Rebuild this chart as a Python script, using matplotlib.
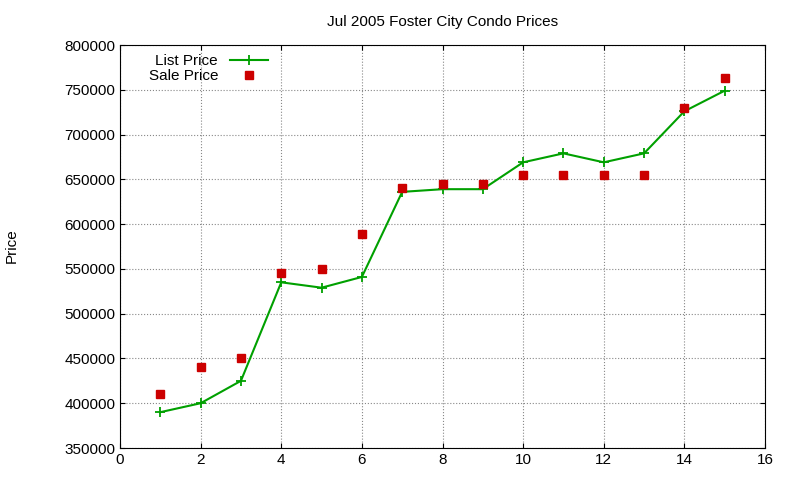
import matplotlib
matplotlib.use("Agg")
import matplotlib.pyplot as plt

x = list(range(1, 16))
list_price = [390000, 400000, 425000, 535000, 529000, 541000, 636000, 639000, 639000,
              669000, 679000, 669000, 679000, 726000, 749000]
sale_price = [410000, 440000, 450000, 545000, 550000, 589000, 640000, 645000, 645000,
              655000, 655000, 655000, 655000, 730000, 763000]

plt.rcParams['font.family'] = ['Liberation Sans', 'DejaVu Sans']
fig = plt.figure(figsize=(8, 4.8), dpi=100)
ax = fig.add_axes([120/800, 32/480, 645/800, 403/480])
ax.plot(x, list_price, color='#00a000', marker='+', markersize=7, mew=1.3, lw=1.5, label='List Price')
ax.plot(x, sale_price, ls='none', marker='s', color='#cc0000', markersize=5.5, label='Sale Price')
ax.set_xlim(0, 16)
ax.set_ylim(350000, 800000)
ax.set_xticks(range(0, 17, 2))
ax.set_yticks(range(350000, 800001, 50000))
ax.grid(True, color='#888888', ls=':', lw=0.8)
ax.tick_params(direction='in', labelsize=11, top=True, right=True)
ax.set_title('Jul 2005 Foster City Condo Prices', fontsize=11, pad=14)
fig.text(12/800, 1 - 246/480, 'Price', rotation=90, ha='center', va='center', fontsize=11)
ax.legend(loc='upper left', frameon=False, markerfirst=False, fontsize=11,
          handlelength=2.5, borderpad=0.1, labelspacing=0.05, bbox_to_anchor=(0.03, 1.0))
fig.savefig('out.png')
